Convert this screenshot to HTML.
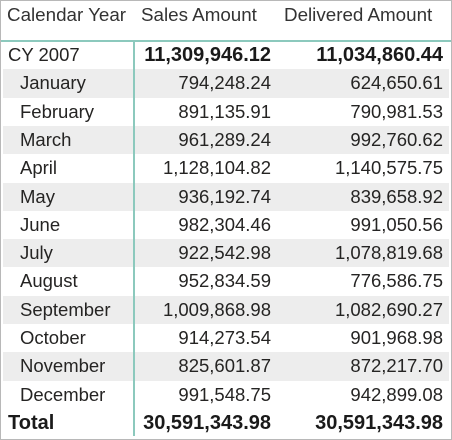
<!DOCTYPE html>
<html><head><meta charset="utf-8"><style>
body{margin:0;width:452px;height:440px;background:#fff;font-family:"Liberation Sans",sans-serif;color:#252423;overflow:hidden}
#wrap{position:absolute;left:0;top:0;width:450px;height:438px;border:1px solid #b8b8b8}
.hdr{position:absolute;top:1px;height:38px;border-bottom:2px solid #8cc9bd;left:0;width:450px}
.h{position:absolute;top:2px;font-size:18.8px;color:#333}
.row{position:absolute;left:2px;width:446px;height:28.3px;font-size:18.5px;line-height:28px}
.row.s{background:#ededed}
.row span{position:absolute}
.n1{right:178px}.n2{right:6px}
.b{font-weight:bold;font-size:20px;color:#1a1a1a}
#vline{position:absolute;left:132px;top:40px;width:2px;height:395px;background:#8cc9bd}
</style></head><body>
<div id="wrap">
<div class="hdr">
<span class="h" style="left:6px">Calendar Year</span>
<span class="h" style="left:140px">Sales Amount</span>
<span class="h" style="left:283px">Delivered Amount</span>
</div>
<div id="rows"></div>
<div id="vline"></div>
</div>
<script>
const labels=["CY 2007","January","February","March","April","May","June","July","August","September","October","November","December","Total"];
const sales=["11,309,946.12","794,248.24","891,135.91","961,289.24","1,128,104.82","936,192.74","982,304.46","922,542.98","952,834.59","1,009,868.98","914,273.54","825,601.87","991,548.75","30,591,343.98"];
const delivered=["11,034,860.44","624,650.61","790,981.53","992,760.62","1,140,575.75","839,658.92","991,050.56","1,078,819.68","776,586.75","1,082,690.27","901,968.98","872,217.70","942,899.08","30,591,343.98"];
const c=document.getElementById('rows');
labels.forEach((l,i)=>{
const r=document.createElement('div');
r.className='row'+(i%2===1&&i<13?' s':'');
r.style.top=(40+i*28.3)+'px';


const bold=(i===0||i===13);
const sub=(i>0&&i<13);
r.innerHTML='<span style="left:'+(sub?17:5)+'px" class="'+(i===13?'b':'')+'">'+l+'</span>'+
'<span class="n1'+(bold?' b':'')+'">'+sales[i]+'</span>'+
'<span class="n2'+(bold?' b':'')+'">'+delivered[i]+'</span>';
c.appendChild(r);
});
</script>
</body></html>
